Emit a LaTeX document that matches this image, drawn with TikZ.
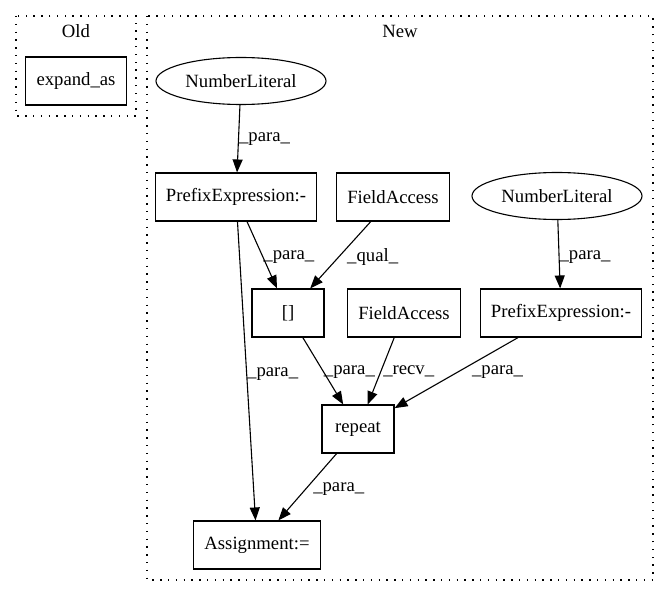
\documentclass[tikz,border=0pt]{standalone}
\usepackage{fontspec}
\setmainfont{Liberation Serif}
\usetikzlibrary{shapes.geometric, arrows.meta, positioning}
\tikzstyle{block}=[draw,rectangle,minimum width=72pt,minimum height=48pt,inner xsep=10.7pt]
\tikzstyle{literal}=[draw,ellipse,minimum width=170pt,minimum height=47pt,inner sep=0pt]
\tikzstyle{cluster}=[draw,line width=1.4pt,dash pattern=on 1.4pt off 6.4pt]
\tikzstyle{elabel}=[inner sep=0pt]
\tikzstyle{every node}=[font=\fontsize{18.7}{22}\selectfont]

\begin{document}
\begin{tikzpicture}[x=1pt,y=-1pt,>={Triangle[length=13pt,width=10pt]},line width=1.1pt]
  \useasboundingbox (0,0) rectangle (669,596);
  % clusters
  \draw[cluster] (16,16) rectangle (136,116);
  \draw[cluster] (147,16) rectangle (653,580);
  \node (old) at (76,31) {Old};
  \node (new) at (400,31) {New};
  \node[block] (expand) at (76,81) {expand\_as};
  % new graph
  \node[literal] (nl1) at (241,81) {NumberLiteral};
  \node[block] (pe1) at (236,197) {PrefixExpression:-};
  \node[block] (fa1) at (393,197) {FieldAccess};
  \node[literal] (nl2) at (557,196) {NumberLiteral};
  \node[block] (brk) at (288,313) {[]};
  \node[block] (fa2) at (404,313) {FieldAccess};
  \node[block] (pe2) at (561,313) {PrefixExpression:-};
  \node[block] (rep) at (358,429) {repeat};
  \node[block] (asg) at (257,545) {Assignment:=};
  \draw[->] (nl1) -- node[elabel,pos=.5,right] {\_para\_} (pe1);
  \draw[->] (pe1) -- node[elabel,pos=.53,right] {\_para\_} (brk);
  \draw[->] (fa1) -- node[elabel,pos=.53,right=8pt] {\_qual\_} (brk);
  \draw[->] (pe1) -- node[elabel,pos=.51,right] {\_para\_} (asg);
  \draw[->] (nl2) -- node[elabel,pos=.54,right] {\_para\_} (pe2);
  \draw[->] (brk) -- node[elabel,pos=.51,right] {\_para\_} (rep);
  \draw[->] (fa2) -- node[elabel,pos=.51,right=2pt] {\_recv\_} (rep);
  \draw[->] (pe2) -- node[elabel,pos=.49,right=14pt] {\_para\_} (rep);
  \draw[->] (rep) -- node[elabel,pos=.53,right=7pt] {\_para\_} (asg);
\end{tikzpicture}
\end{document}
